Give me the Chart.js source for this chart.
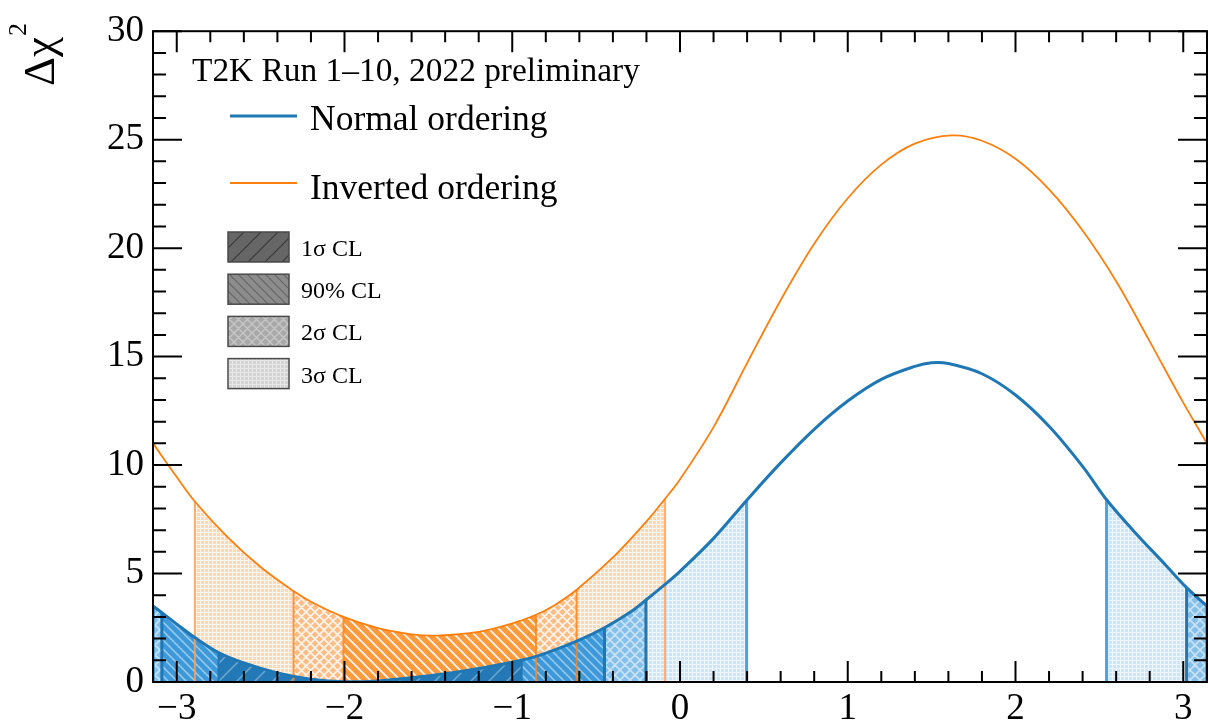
<!DOCTYPE html>
<html>
<head>
<meta charset="utf-8">
<title>T2K delta_CP chi2 profile</title>
<script src="https://cdn.jsdelivr.net/npm/chart.js@4.4.1/dist/chart.umd.min.js"></script>
<style>
  html, body { margin: 0; padding: 0; background: #fff; }
  canvas { display: block; }
</style>
</head>
<body>
<canvas id="chart" width="1208" height="723"></canvas>
<script>
const PI = Math.PI;

/* ---------------------------------------------------------
   Data: delta_CP samples and Δχ²
--------------------------------------------------------- */
const dcpNormal = [-PI, -3.089, -3.0, -2.892, -2.751, -2.6, -2.4, -2.2, -2.0, -1.8, -1.6, -1.4, -1.2, -0.944,
  -0.8, -0.616, -0.45, -0.3, -0.203, -0.089, 0, 0.2, 0.397, 0.6, 0.8, 1.0, 1.2, 1.4, 1.5, 1.6, 1.8, 2.0,
  2.2, 2.4, 2.543, 2.7, 2.9, 3.02, PI];
const chi2Normal = [3.5, 3.2, 2.67, 2.05, 1.36, 0.88, 0.42, 0.13, 0.01, 0.05, 0.2, 0.38, 0.62, 1.0,
  1.33, 1.88, 2.5, 3.2, 3.78, 4.5, 5.1, 6.62, 8.37, 10.1, 11.65, 12.95, 13.95, 14.55, 14.72, 14.68, 14.21, 13.23,
  11.79, 9.94, 8.4, 7.0, 5.35, 4.35, 3.5];

const dcpInverted = [-PI, -3.0, -2.892, -2.7, -2.5, -2.304, -2.2, -2.006, -1.8, -1.6, -1.45, -1.2, -1.0,
  -0.858, -0.75, -0.616, -0.4, -0.2, -0.089, 0, 0.2, 0.4, 0.6, 0.8, 1.0, 1.2, 1.4, 1.62, 1.8, 2.0, 2.2,
  2.4, 2.6, 2.8, 3.0, PI];
const chi2Inverted = [11.0, 9.45, 8.32, 6.7, 5.3, 4.19, 3.7, 3.0, 2.48, 2.2, 2.14, 2.31, 2.7,
  3.1, 3.53, 4.25, 5.74, 7.4, 8.45, 9.34, 11.75, 14.7, 17.6, 20.2, 22.3, 23.85, 24.82, 25.2, 24.95, 24.12, 22.71,
  20.81, 18.47, 15.7, 12.88, 11.0];

// confidence intervals in delta_CP, [from, to]
const normal1sigma = [[-2.751, -0.944]];
const normal90 = [[-3.089, -0.45]];
const normal2sigma = [[-PI, -0.203], [3.02, PI]];
const normal3sigma = [[-PI, 0.397], [2.543, PI]];
const inverted90 = [[-2.006, -0.858]];
const inverted2sigma = [[-2.304, -0.616]];
const inverted3sigma = [[-2.892, -0.089]];

const xTicks = [-3, -2, -1, 0, 1, 2, 3];
const yTicks = [0, 5, 10, 15, 20, 25, 30];
const clLabels = ["1σ CL", "90% CL", "2σ CL", "3σ CL"];

const FONT = '"Liberation Serif", "Times New Roman", serif';
const TENSION = 0.35;
const canvas = document.getElementById("chart");
const ctx2d = canvas.getContext("2d");

/* ---------------------------------------------------------
   Hatch patterns (ROOT-like fill styles)
--------------------------------------------------------- */
function makePattern(bg, line, kind, size, lw) {
  const c = document.createElement("canvas");
  c.width = c.height = size;
  const g = c.getContext("2d");
  g.fillStyle = bg;
  g.fillRect(0, 0, size, size);
  if (kind === "grid") {
    g.fillStyle = line;
    g.fillRect(0, 0, size, 1);
    g.fillRect(0, 0, 1, size);
    return ctx2d.createPattern(c, "repeat");
  }
  g.strokeStyle = line;
  g.lineWidth = lw;
  g.beginPath();
  if (kind === "fwd" || kind === "cross") {
    g.moveTo(0, size); g.lineTo(size, 0);
    g.moveTo(-size / 2, size / 2); g.lineTo(size / 2, -size / 2);
    g.moveTo(size / 2, size * 1.5); g.lineTo(size * 1.5, size / 2);
  }
  if (kind === "back" || kind === "cross") {
    g.moveTo(0, 0); g.lineTo(size, size);
    g.moveTo(-size / 2, size / 2); g.lineTo(size / 2, size * 1.5);
    g.moveTo(size / 2, -size / 2); g.lineTo(size * 1.5, size / 2);
  }
  g.stroke();
  return ctx2d.createPattern(c, "repeat");
}

const fills = {
  n1: makePattern("#2379b6", "rgba(255,255,255,0.35)", "fwd", 18, 1.5),
  n90: makePattern("#3d99d9", "rgba(255,255,255,0.5)", "back", 9, 1.5),
  n2: makePattern("#85c0ea", "rgba(255,255,255,0.55)", "cross", 10, 1.6),
  n3: makePattern("#cfe5f7", "#eef6fd", "grid", 4),
  i90: makePattern("#ff9a3d", "rgba(255,255,255,0.9)", "back", 10, 1.8),
  i2: makePattern("#ffbd85", "rgba(255,255,255,0.85)", "cross", 9, 1.6),
  i3: makePattern("#ffd9b5", "#fff4ea", "grid", 4),
};
const legendFills = [
  makePattern("#666666", "#3a3a3a", "fwd", 17, 1.2),
  makePattern("#8c8c8c", "#666666", "back", 9, 1.2),
  makePattern("#a8a8a8", "#c6c6c6", "cross", 9, 1.4),
  makePattern("#d4d4d4", "#e8e8e8", "grid", 4),
];

/* ---------------------------------------------------------
   Dataset builders
--------------------------------------------------------- */
const toPoints = (xs, ys) => xs.map((x, i) => ({ x, y: ys[i] }));
const indexOf = (xs, v) => xs.findIndex((x) => Math.abs(x - v) < 1e-6);

function regionSets(xs, ys, intervals, pattern, order) {
  return intervals.map(([a, b]) => ({
    data: toPoints(xs, ys).filter((p) => p.x >= a - 1e-6 && p.x <= b + 1e-6),
    backgroundColor: pattern,
    borderWidth: 0,
    fill: "origin",
    pointRadius: 0,
    tension: TENSION,
    order,
  }));
}

function edgeSets(xs, ys, intervals, color, width, order) {
  const sets = [];
  intervals.forEach((iv) => iv.forEach((e) => {
    const i = indexOf(xs, e);
    sets.push({
      data: [{ x: e, y: 0 }, { x: e, y: ys[i] }],
      borderColor: color,
      borderWidth: width,
      pointRadius: 0,
      fill: false,
      order,
    });
  }));
  return sets;
}

const datasets = [
  ...regionSets(dcpInverted, chi2Inverted, inverted3sigma, fills.i3, 100),
  ...regionSets(dcpInverted, chi2Inverted, inverted2sigma, fills.i2, 99),
  ...regionSets(dcpInverted, chi2Inverted, inverted90, fills.i90, 98),
  ...regionSets(dcpNormal, chi2Normal, normal3sigma, fills.n3, 90),
  ...regionSets(dcpNormal, chi2Normal, normal2sigma, fills.n2, 89),
  ...regionSets(dcpNormal, chi2Normal, normal90, fills.n90, 88),
  ...regionSets(dcpNormal, chi2Normal, normal1sigma, fills.n1, 87),
  ...edgeSets(dcpInverted, chi2Inverted, inverted3sigma, "rgba(255,160,80,0.85)", 2, 60),
  ...edgeSets(dcpInverted, chi2Inverted, inverted2sigma, "rgba(255,130,25,0.85)", 2, 60),
  ...edgeSets(dcpInverted, chi2Inverted, inverted90, "rgba(255,130,25,0.85)", 2, 60),
  ...edgeSets(dcpNormal, chi2Normal, normal3sigma, "#4aa3df", 3, 50),
  ...edgeSets(dcpNormal, chi2Normal, normal2sigma, "#1f77b4", 3, 50),
  ...edgeSets(dcpNormal, chi2Normal, normal90, "#1f77b4", 3, 50),
  ...edgeSets(dcpNormal, chi2Normal, normal1sigma, "#1f77b4", 2, 50),
  {
    label: "Inverted ordering",
    data: toPoints(dcpInverted, chi2Inverted),
    borderColor: "#ff7f0e",
    borderWidth: 1.8,
    pointRadius: 0,
    fill: false,
    tension: TENSION,
    order: 2,
  },
  {
    label: "Normal ordering",
    data: toPoints(dcpNormal, chi2Normal),
    borderColor: "#1f77b4",
    borderWidth: 3,
    pointRadius: 0,
    fill: false,
    tension: TENSION,
    order: 1,
  },
];

/* ---------------------------------------------------------
   Frame with inward major + minor ticks on all four sides
--------------------------------------------------------- */
const frameTicks = {
  id: "frameTicks",
  afterDatasetsDraw(chart) {
    const { ctx, chartArea: a, scales: { x, y } } = chart;
    ctx.save();
    ctx.strokeStyle = "#000";
    ctx.lineWidth = 2;
    ctx.beginPath();
    for (let k = -15; k <= 15; k++) {
      const px = x.getPixelForValue(k / 5);
      const len = k % 5 === 0 ? 21 : 11;
      ctx.moveTo(px, a.bottom); ctx.lineTo(px, a.bottom - len);
      ctx.moveTo(px, a.top); ctx.lineTo(px, a.top + len);
    }
    for (let v = 0; v <= 30; v++) {
      const py = y.getPixelForValue(v);
      const len = v % 5 === 0 ? 29 : 13;
      ctx.moveTo(a.left, py); ctx.lineTo(a.left + len, py);
      ctx.moveTo(a.right, py); ctx.lineTo(a.right - len, py);
    }
    ctx.stroke();
    ctx.strokeRect(a.left, a.top, a.right - a.left, a.bottom - a.top);
    ctx.restore();
  },
};

/* ---------------------------------------------------------
   Legend, label and axis title
--------------------------------------------------------- */
const overlay = {
  id: "overlay",
  afterDraw(chart) {
    const ctx = chart.ctx;
    ctx.save();
    ctx.fillStyle = "#000";
    ctx.textAlign = "left";
    ctx.textBaseline = "alphabetic";

    ctx.font = `33.4px ${FONT}`;
    ctx.fillText("T2K Run 1–10, 2022 preliminary", 192, 81);

    ctx.font = `35.5px ${FONT}`;
    ctx.fillText("Normal ordering", 310, 130);
    ctx.fillText("Inverted ordering", 310, 199);

    ctx.lineWidth = 3;
    ctx.strokeStyle = "#1f77b4";
    ctx.beginPath(); ctx.moveTo(230, 116); ctx.lineTo(297, 116); ctx.stroke();
    ctx.lineWidth = 1.8;
    ctx.strokeStyle = "#ff7f0e";
    ctx.beginPath(); ctx.moveTo(230, 183); ctx.lineTo(297, 183); ctx.stroke();

    ctx.font = `24px ${FONT}`;
    clLabels.forEach((txt, i) => {
      const top = 232 + i * 42.2;
      ctx.fillStyle = legendFills[i];
      ctx.fillRect(228, top, 61, 30);
      ctx.strokeStyle = "#4a4a4a";
      ctx.lineWidth = 1.5;
      ctx.strokeRect(228, top, 61, 30);
      ctx.fillStyle = "#000";
      ctx.fillText(txt, 301, top + 24);
    });

    // y axis title: Δχ²
    ctx.translate(54, 86);
    ctx.rotate(-PI / 2);
    ctx.font = `45px ${FONT}`;
    ctx.fillText("Δχ", 0, 0);
    const w = ctx.measureText("Δχ").width;
    ctx.font = `26px ${FONT}`;
    ctx.fillText("2", w + 1, -28);
    ctx.restore();
  },
};

const fmt = (v) => (v < 0 ? "\u2212" + Math.abs(v) : String(v));

new Chart(ctx2d, {
  type: "line",
  data: { datasets },
  options: {
    responsive: false,
    animation: false,
    devicePixelRatio: 1,
    events: [],
    layout: { padding: { top: 23, right: 1, left: 0, bottom: 0 } },
    plugins: { legend: { display: false }, tooltip: { enabled: false } },
    scales: {
      x: {
        type: "linear",
        min: -PI,
        max: PI,
        afterBuildTicks: (s) => { s.ticks = xTicks.map((v) => ({ value: v })); },
        afterFit: (s) => { s.height = 41; },
        grid: { display: false, drawTicks: false },
        border: { display: false },
        ticks: {
          color: "#000",
          padding: 5,
          maxRotation: 0,
          autoSkip: false,
          font: { family: FONT, size: 37 },
          callback: fmt,
        },
      },
      y: {
        type: "linear",
        min: 0,
        max: 30,
        afterBuildTicks: (s) => { s.ticks = yTicks.map((v) => ({ value: v })); },
        afterFit: (s) => { s.width = 153; },
        grid: { display: false, drawTicks: false },
        border: { display: false },
        ticks: {
          color: "#000",
          padding: 9,
          autoSkip: false,
          font: { family: FONT, size: 37 },
          callback: fmt,
        },
      },
    },
  },
  plugins: [frameTicks, overlay],
});
</script>
</body>
</html>
